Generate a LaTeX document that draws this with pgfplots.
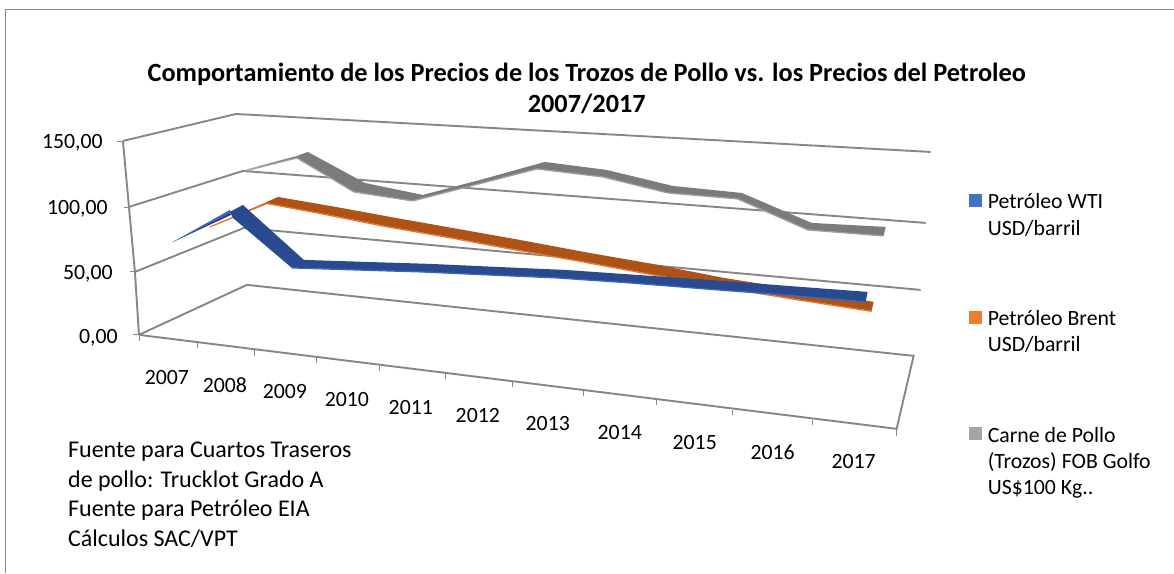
\documentclass[border=0pt]{standalone}
\usepackage{fontspec}
\setmainfont{Carlito}
\usepackage{pgfplots}
\pgfplotsset{compat=1.18}
\definecolor{gridc}{HTML}{868686}
\definecolor{blueT}{HTML}{2A4A90}
\definecolor{blueE}{HTML}{3A66BD}
\definecolor{blueD}{HTML}{1F2F60}
\definecolor{oranT}{HTML}{AD5318}
\definecolor{oranE}{HTML}{E8772E}
\definecolor{grayT}{HTML}{7B7B7B}
\definecolor{grayE}{HTML}{A0A0A0}
\definecolor{legB}{HTML}{4472C4}
\definecolor{legO}{HTML}{ED7D31}
\definecolor{legG}{HTML}{A5A5A5}
\pgfplotsset{
  gl/.style={draw=gridc,line width=1.9pt,no marks},
  tk/.style={draw=gridc,line width=0.8pt,no marks},
  rib/.style={fill=#1,draw=none,no marks,line join=round},
  edg/.style={draw=#1,line width=1.3pt,no marks,line join=round},
}
\newcommand{\txt}{\fontsize{21.8}{26}\selectfont}
\newcommand{\nte}{\fontsize{24}{28}\selectfont}
\begin{document}
\begin{tikzpicture}
\begin{axis}[
  anchor=north west, at={(0pt,0pt)},
  scale only axis, width=1174pt, height=573pt,
  xmin=0, xmax=1174, ymin=0, ymax=573, y dir=reverse,
  hide axis, clip=false,
]
% outer frame
\addplot[draw=gridc,line width=1pt,no marks] coordinates {(6,573) (6,9.5) (1174,9.5)};
% walls and gridlines
\addplot[gl] coordinates {(123,141) (236,114) (931,152)};
\addplot[gl] coordinates {(129,207) (243,171) (926,223)};
\addplot[gl] coordinates {(135,272) (244,228) (921,290)};
\addplot[gl] coordinates {(139,335) (247,285) (914,356) (897,429) (139,335)};
\addplot[gl] coordinates {(123,141) (129,207) (135,272) (139,335)};
% y ticks
\addplot[tk] coordinates {(117,141) (123,141)};
\addplot[tk] coordinates {(124,207) (129,207)};
\addplot[tk] coordinates {(130,272) (135,272)};
\addplot[tk] coordinates {(133,335) (139,335)};
% x ticks
\addplot[tk] coordinates {(139,335) (139,341)};
\addplot[tk] coordinates {(197,343) (197,348)};
\addplot[tk] coordinates {(255,350) (255,356)};
\addplot[tk] coordinates {(317,358) (317,363)};
\addplot[tk] coordinates {(380,366) (380,371)};
\addplot[tk] coordinates {(446,374) (446,379)};
\addplot[tk] coordinates {(513,382) (513,387)};
\addplot[tk] coordinates {(584,391) (584,396)};
\addplot[tk] coordinates {(657,400) (657,405)};
\addplot[tk] coordinates {(733,410) (733,415)};
\addplot[tk] coordinates {(813,420) (813,425)};
\addplot[tk] coordinates {(897,430) (897,436)};
% Carne de Pollo ribbon
\addplot[rib=grayT] coordinates {(245,170) (297,156) (308,152) (365,183) (423,195) (484,179) (545,162) (607,170) (673,186) (742,193) (812,223) (886,227) (884,236) (808,230) (738,199) (668,193) (603,177) (537,169) (475,185) (413,201) (354,192) (297,158)} --cycle;
\addplot[edg=grayE] coordinates {(245,171) (297,158) (354,192) (413,201) (475,185) (537,169) (603,177) (668,193) (738,199) (808,230) (884,236)};
% Petroleo Brent ribbon
\addplot[rib=oranT] coordinates {(210,227) (267,202) (278,197) (336,207) (396,218) (458,229) (520,240) (584,252) (653,264) (724,278) (800,290) (874,302) (872,311) (795,299) (717,286) (645,273) (575,260) (510,248.5) (448,237) (385,226) (325,214) (267,204)} --cycle;
\addplot[edg=oranE] coordinates {(210,227) (267,203.5) (325,214.5) (385,226.5) (448,237.5) (510,249) (575,260.5) (645,273.5) (717,286.5) (795,299.5) (872,311.5)};
% Petroleo WTI ribbon
\addplot[rib=blueD] coordinates {(173,242) (230,212) (231,215)} --cycle;
\addplot[rib=blueE] coordinates {(173,242) (230,210) (231,213)} --cycle;
\addplot[rib=blueT] coordinates {(230,212) (243,205) (304,260) (366,262) (431,264) (497,267) (565,270) (637,275) (710,280) (788,286) (868,292) (866,302) (784,295) (705,289) (630,283) (557,278) (488,275) (421,272) (355,270) (292,268) (233,218)} --cycle;
\addplot[edg=blueE] coordinates {(292,268) (355,270) (421,272) (488,275) (557,278) (630,283) (705,289) (784,295) (866,302)};
% legend swatches
\addplot[rib=legB] coordinates {(969,194) (982,194) (982,207) (969,207)} --cycle;
\addplot[rib=legO] coordinates {(969,311) (982,311) (982,324) (969,324)} --cycle;
\addplot[rib=legG] coordinates {(969,427) (982,427) (982,440) (969,440)} --cycle;
% bounding box
\draw[draw=none] (axis cs:0,0) rectangle (axis cs:1174,573);
% title
\node[font=\fontsize{26.3}{31}\selectfont\bfseries,align=center] at (axis cs:587,88) {Comportamiento de los Precios de los Trozos de Pollo vs. los Precios del Petroleo\\2007/2017};
% y tick labels
\node[anchor=east,inner sep=0pt,font=\txt] at (axis cs:103,143) {150,00};
\node[anchor=east,inner sep=0pt,font=\txt] at (axis cs:108,209) {100,00};
\node[anchor=east,inner sep=0pt,font=\txt] at (axis cs:113,274) {50,00};
\node[anchor=east,inner sep=0pt,font=\txt] at (axis cs:118,338) {0,00};
% x tick labels
\node[font=\txt] at (axis cs:167,378) {2007};
\node[font=\txt] at (axis cs:225,385) {2008};
\node[font=\txt] at (axis cs:285,392) {2009};
\node[font=\txt] at (axis cs:347,400) {2010};
\node[font=\txt] at (axis cs:411,408) {2011};
\node[font=\txt] at (axis cs:478,416) {2012};
\node[font=\txt] at (axis cs:548,424) {2013};
\node[font=\txt] at (axis cs:620,433) {2014};
\node[font=\txt] at (axis cs:695,443) {2015};
\node[font=\txt] at (axis cs:773,452) {2016};
\node[font=\txt] at (axis cs:854,462) {2017};
% legend text
\node[anchor=west,inner sep=0pt,font=\txt] at (axis cs:988,201) {Petróleo WTI};
\node[anchor=west,inner sep=0pt,font=\txt] at (axis cs:988,228) {USD/barril};
\node[anchor=west,inner sep=0pt,font=\txt] at (axis cs:988,318) {Petróleo Brent};
\node[anchor=west,inner sep=0pt,font=\txt] at (axis cs:988,345) {USD/barril};
\node[anchor=west,inner sep=0pt,font=\txt] at (axis cs:988,435) {Carne de Pollo};
\node[anchor=west,inner sep=0pt,font=\txt] at (axis cs:988,462) {(Trozos) FOB Golfo};
\node[anchor=west,inner sep=0pt,font=\txt] at (axis cs:988,489) {US\$100 Kg..};
% source note
\node[anchor=west,inner sep=0pt,font=\nte] at (axis cs:68,452) {Fuente para Cuartos Traseros};
\node[anchor=west,inner sep=0pt,font=\nte] at (axis cs:68,481) {de pollo: Trucklot Grado A};
\node[anchor=west,inner sep=0pt,font=\nte] at (axis cs:68,510) {Fuente para Petróleo EIA};
\node[anchor=west,inner sep=0pt,font=\nte] at (axis cs:68,539) {Cálculos SAC/VPT};
\end{axis}
\end{tikzpicture}
\end{document}
